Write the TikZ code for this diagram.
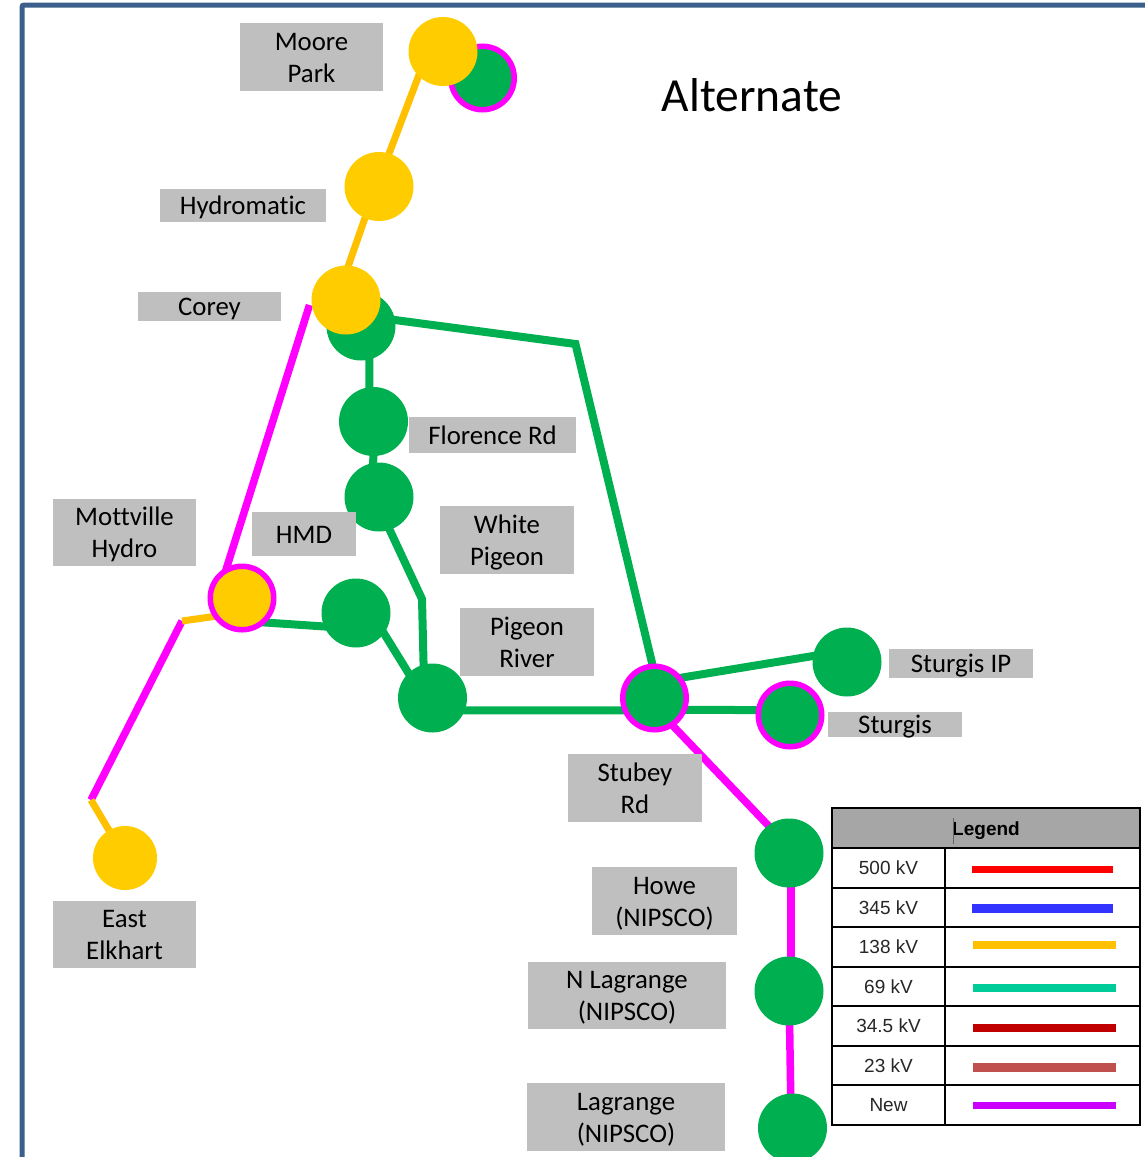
\documentclass[tikz,border=0pt]{standalone}
\usepackage{fontspec}
\setmainfont[Ligatures=NoCommon]{Carlito}
\newfontfamily\legendfont{Liberation Sans}
\usetikzlibrary{backgrounds}
\definecolor{busgreen}{HTML}{00B050}
\definecolor{busyellow}{HTML}{FFCC00}
\definecolor{lineorange}{HTML}{FFC000}
\definecolor{newmag}{HTML}{FF00FF}
\definecolor{labgrey}{HTML}{BFBFBF}
\definecolor{framblue}{HTML}{3B5F8A}
\definecolor{headgrey}{HTML}{A6A6A6}
\tikzset{
  bus/.style={circle,inner sep=0pt,outer sep=0pt,minimum size=69pt},
  gbus/.style={bus,fill=busgreen},
  ybus/.style={bus,fill=busyellow},
  ring/.style={circle,inner sep=0pt,outer sep=0pt,minimum size=63.5pt,draw=newmag,line width=5.5pt},
  lab/.style={fill=labgrey,inner sep=0pt,outer sep=0pt},
  labtext/.style={inner sep=0pt,outer sep=0pt,align=center,font=\fontsize{26.8}{32}\selectfont,text=black,yshift=-3pt},
  gwire/.style={line width=8pt,line join=miter,draw=busgreen},
  owire/.style={line width=7pt,line join=miter,draw=lineorange},
  mwire/.style={line width=7.5pt,line join=miter,draw=newmag},
  into/.style={shorten >=-4pt,shorten <=-4pt},
  intoend/.style={shorten >=-4pt},
  intostart/.style={shorten <=-4pt},
  cell/.style={draw=black,line width=2.5pt,inner sep=0pt,outer sep=0pt,font=\legendfont\fontsize{19}{22}\selectfont,text=black!85},
  swatch/.style={line width=7.5pt},
}
\newcommand{\labbox}[6]{\node[lab,minimum width=#3pt-#2pt,minimum height=#5pt-#4pt] (#1) at ({(#2+#3)/2},{(#4+#5)/2}) {};
  \node[labtext] (#1t) at (#1) {#6};}
\begin{document}
\begin{tikzpicture}[x=1pt,y=-1pt]
\useasboundingbox (0,0) rectangle (1145,1157);
\clip (0,0) rectangle (1145,1157);
\draw[framblue,line width=5pt,rounded corners=2pt] (22,1175) -- (22,5) -- (1175,5);

% buses
\node[ring,fill=busgreen] (mooreG) at (482.5,78) {};
\node[ybus] (mooreY) at (443,51.5) {};
\node[ybus] (hydro) at (379,186.5) {};
\node[gbus] (coreyG) at (361,326) {};
\node[ybus] (coreyY) at (346,300) {};
\node[gbus] (florence) at (373.5,421.5) {};
\node[gbus] (white) at (379,497) {};
\node[gbus] (hmd) at (356,613) {};
\node[gbus] (pigeon) at (432.5,698) {};
\node[ring,fill=busyellow] (mott) at (242,598) {};
\node[ring,fill=busgreen] (stubey) at (654.5,698) {};
\node[ring,fill=busgreen] (sturgis) at (790,715) {};
\node[gbus] (sturgisip) at (847,662) {};
\node[gbus] (howe) at (789,853) {};
\node[gbus] (nlag) at (789,991) {};
\node[gbus] (lag) at (792.5,1128) {};
\node[ybus,minimum size=64pt] (east) at (125,858) {};

% free points of the connectors
\coordinate (bendA) at (575.5,344);
\coordinate (bendB) at (422,599);
\coordinate (stubN) at (182,621);
\coordinate (stubS) at (91,800);
\coordinate (coreyEnd) at (309.5,305);

\begin{scope}[on background layer]
  \draw[owire,into] (mooreY.225) -- (hydro.73);
  \draw[owire,into] (hydro.246) -- (coreyY.86);
  \draw[gwire,intostart,intoend] (coreyG.10) -- (bendA) -- (stubey.93);
  \draw[gwire,into] (coreyG.-76) -- (florence.97);
  \draw[gwire,into] (florence.-90) -- (white.100);
  \draw[gwire,intostart,intoend] (white.-72) -- (bendB) -- (pigeon.105);
  \draw[gwire,into] (mott.-50) -- (hmd.203);
  \draw[gwire,into] (hmd.-36) -- (pigeon.134);
  \draw[gwire,into] (pigeon.-21) -- (stubey.203);
  \draw[gwire,into] (stubey.-22.5) -- (sturgis.171);
  \draw[gwire,into] (stubey.39) -- (sturgisip.170);
  \draw[mwire,intoend] (coreyEnd) -- (mott.121);
  \draw[mwire] (stubN) -- (stubS);
  \draw[owire,intostart] (mott.215) -- (stubN);
  \draw[owire,intoend] (stubS) -- (east.120);
  \draw[mwire,into] (stubey.-57) -- (howe.127);
  \draw[mwire,into] (howe.-87) -- (nlag.87);
  \draw[mwire,into] (nlag.-89) -- (lag.93);
\end{scope}

% labels
\labbox{lMoore}{240}{383}{23}{91}{\strut Moore\\\strut Park}
\labbox{lHydro}{160}{326}{189}{222}{\strut Hydromatic}
\labbox{lCorey}{138}{281}{292}{321}{\strut Corey}
\labbox{lFlorence}{409}{576}{417}{453}{\strut Florence Rd}
\labbox{lWhite}{440}{574}{506}{574}{\strut White\\\strut Pigeon}
\labbox{lMott}{53}{196}{499}{566}{\strut Mottville\\\strut Hydro}
\labbox{lHMD}{252}{356}{512}{556}{\strut HMD}
\labbox{lPigeon}{460}{594}{608}{676}{\strut Pigeon\\\strut River}
\labbox{lIP}{889}{1033}{649}{678}{\strut Sturgis IP}
\labbox{lSturgis}{828}{962}{712}{737}{\strut Sturgis}
\labbox{lStubey}{568}{702}{754}{822}{\strut Stubey\\\strut Rd}
\labbox{lHowe}{592}{737}{867}{935}{\strut Howe\\\strut (NIPSCO)}
\labbox{lNLag}{528}{726}{962}{1029}{\strut N Lagrange\\\strut (NIPSCO)}
\labbox{lLag}{527}{725}{1083}{1151}{\strut Lagrange\\\strut (NIPSCO)}
\labbox{lEast}{53}{196}{901}{968}{\strut East\\\strut Elkhart}

\node[inner sep=0pt,font=\fontsize{47.5}{50}\selectfont,text=black] (title) at (752,95.5) {Alternate};

% legend
\node[cell,fill=headgrey,minimum width=308pt,minimum height=40pt] (legHead) at (986,828) {};
\node[inner sep=0pt,font=\legendfont\bfseries\fontsize{19}{22}\selectfont,text=black,yshift=-2.5pt] (legText) at (legHead) {Legend};
\draw[black!60,line width=1pt] (953.5,818) -- (953.5,844);
\foreach \nm/\t/\y/\h/\c/\sy/\xa/\xb/\lw in {
  a/500 kV/868/40/FF0000/869.5/972/1113/7.5,
  b/345 kV/907.5/39/3333FF/908.5/972/1113/9,
  c/138 kV/947/40/FFC000/945/973/1116/7.5,
  d/69 kV/986.5/39/00CC99/988/973/1116/7.5,
  e/34.5 kV/1026/40/C00000/1028/973/1116/7.5,
  f/23 kV/1065.5/39/C0504D/1067/973/1116/9,
  g/New/1105/40/CC00FF/1105.5/973/1116/7.5}{
  \definecolor{swc}{HTML}{\c}
  \node[cell,minimum width=113pt,minimum height=\h pt] (k\nm) at (888.5,\y) {\t};
  \node[cell,minimum width=195pt,minimum height=\h pt] (v\nm) at (1042.5,\y) {};
  \draw[swc,swatch,line width=\lw pt] (\xa,\sy) -- (\xb,\sy);
}
\end{tikzpicture}
\end{document}
